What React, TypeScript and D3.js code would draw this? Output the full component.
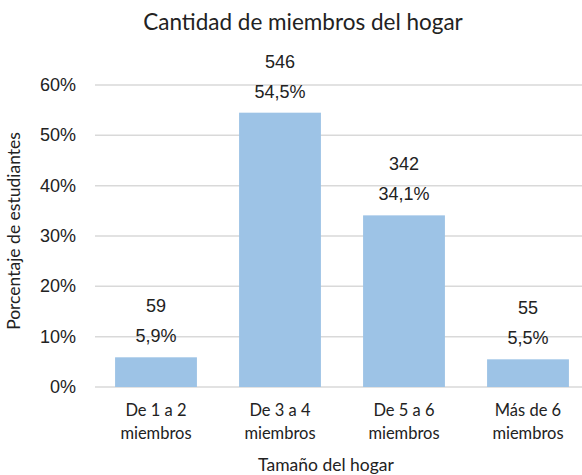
import { useEffect, useRef } from "react";
import * as d3 from "d3";

const categories = ["De 1 a 2|miembros", "De 3 a 4|miembros", "De 5 a 6|miembros", "Más de 6|miembros"];
const percents = [5.9, 54.5, 34.1, 5.5];
const counts = [59, 546, 342, 55];
const yTicks = [0, 10, 20, 30, 40, 50, 60];

export default function App() {
  const ref = useRef<SVGSVGElement>(null);

  useEffect(() => {
    const svg = d3.select(ref.current);
    svg.selectAll("*").remove();

    const width = 582;
    const height = 475;
    const labelFont = "Lato, 'Open Sans', sans-serif";
    const numFont = "'Liberation Sans', Arial, sans-serif";

    const x = d3.scaleBand<number>()
      .domain(d3.range(categories.length))
      .range([94, 590])
      .paddingInner(0.34)
      .paddingOuter(0.17);

    const y = d3.scaleLinear().domain([0, 60]).range([387, 85]);

    svg.append("rect").attr("width", width).attr("height", height).attr("fill", "#fff");

    svg.append("text")
      .attr("x", 303)
      .attr("y", 30)
      .attr("text-anchor", "middle")
      .attr("font-family", labelFont)
      .attr("font-size", 22.5)
      .attr("fill", "#222")
      .text("Cantidad de miembros del hogar");

    // gridlines
    svg.append("g")
      .selectAll("line")
      .data(yTicks)
      .join("line")
      .attr("x1", 95)
      .attr("x2", width)
      .attr("y1", d => y(d))
      .attr("y2", d => y(d))
      .attr("stroke", "#d9d9d9")
      .attr("stroke-width", 1.5);

    svg.append("g")
      .selectAll("text")
      .data(yTicks)
      .join("text")
      .attr("x", 76)
      .attr("y", d => y(d) + 6)
      .attr("text-anchor", "end")
      .attr("font-family", numFont)
      .attr("font-size", 18)
      .attr("fill", "#222")
      .text(d => d + "%");

    svg.append("g")
      .selectAll("rect")
      .data(percents)
      .join("rect")
      .attr("x", (_, i) => x(i)!)
      .attr("width", x.bandwidth())
      .attr("y", d => y(d))
      .attr("height", d => y(0) - y(d))
      .attr("fill", "#9dc3e6");

    const labels = svg.append("g")
      .attr("font-family", numFont)
      .attr("font-size", 18)
      .attr("fill", "#222")
      .attr("text-anchor", "middle");

    percents.forEach((p, i) => {
      const cx = x(i)! + x.bandwidth() / 2;
      labels.append("text")
        .attr("x", cx)
        .attr("y", y(p) - 15)
        .text(p.toFixed(1).replace(".", ",") + "%");
      labels.append("text")
        .attr("x", cx)
        .attr("y", y(p) - 45)
        .text(counts[i]);
    });

    const cats = svg.append("g")
      .attr("font-family", labelFont)
      .attr("font-size", 16.5)
      .attr("fill", "#222")
      .attr("text-anchor", "middle");

    categories.forEach((c, i) => {
      const t = cats.append("text")
        .attr("x", x(i)! + x.bandwidth() / 2)
        .attr("y", 416);
      c.split("|").forEach((line, j) => {
        t.append("tspan")
          .attr("x", x(i)! + x.bandwidth() / 2)
          .attr("dy", j === 0 ? 0 : 23)
          .text(line);
      });
    });

    svg.append("text")
      .attr("x", 326)
      .attr("y", 471)
      .attr("text-anchor", "middle")
      .attr("font-family", labelFont)
      .attr("font-size", 17.5)
      .attr("fill", "#222")
      .text("Tamaño del hogar");

    svg.append("text")
      .attr("transform", "translate(20,231) rotate(-90)")
      .attr("text-anchor", "middle")
      .attr("font-family", labelFont)
      .attr("font-size", 17.5)
      .attr("fill", "#222")
      .text("Porcentaje de estudiantes");
  }, []);

  return (
    <svg
      ref={ref}
      width={582}
      height={475}
      style={{ position: "absolute", left: 0, top: 0, display: "block" }}
    />
  );
}
